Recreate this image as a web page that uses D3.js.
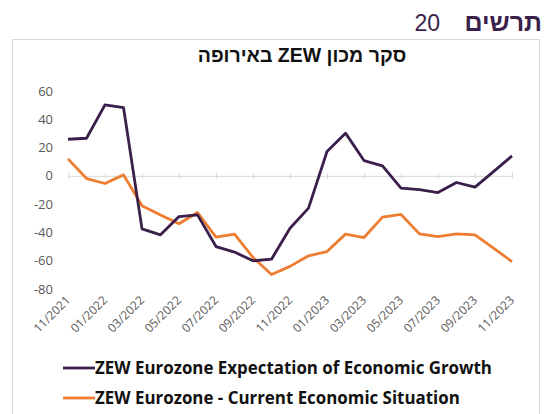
<!DOCTYPE html>
<html><head><meta charset="utf-8">
<script src="https://cdn.jsdelivr.net/npm/d3@7"></script>
<style>body{margin:0;background:#fff}svg{display:block}</style>
</head><body>
<script>
const months = ["11/2021","12/2021","01/2022","02/2022","03/2022","04/2022","05/2022","06/2022","07/2022","08/2022","09/2022","10/2022","11/2022","12/2022","01/2023","02/2023","03/2023","04/2023","05/2023","06/2023","07/2023","08/2023","09/2023","10/2023","11/2023"];
const growth = [25.9,26.6,50.2,48.3,-37.5,-41.7,-28.8,-27.6,-50.0,-53.9,-60.1,-58.9,-37.0,-22.8,17.2,30.2,10.8,7.1,-8.7,-9.7,-11.8,-4.7,-8.0,3.0,14.1];
const current = [12.0,-1.9,-5.4,0.7,-21.2,-27.6,-33.9,-25.9,-43.3,-41.2,-57.7,-69.8,-64.0,-56.5,-53.5,-41.2,-43.6,-29.2,-27.3,-41.0,-42.9,-41.0,-41.7,-51.1,-60.6];
const tickLabels = ["11/2021","01/2022","03/2022","05/2022","07/2022","09/2022","11/2022","01/2023","03/2023","05/2023","07/2023","09/2023","11/2023"];
const yTicks = [60,40,20,0,-20,-40,-60,-80];
const seriesNames = ["ZEW Eurozone Expectation of Economic Growth","ZEW Eurozone - Current Economic Situation"];
const colors = ["#3b1f4b","#ed7d31"];

const W=545,H=414;
const svg=d3.select("body").append("svg").attr("width",W).attr("height",H);
const font='"Liberation Sans", Arial, "DejaVu Sans", sans-serif';
const font2='"Open Sans", "DejaVu Sans", sans-serif';

// header
svg.append("text").attr("x",542).attr("y",31).attr("text-anchor","end")
  .attr("font-family",font).attr("font-weight","bold").attr("font-size",25).attr("fill","#3b1f4b").text("תרשים");
svg.append("text").attr("x",440).attr("y",31).attr("text-anchor","end")
  .attr("font-family",font).attr("font-size",23).attr("fill","#3b1f4b").text("20");

// box
svg.append("rect").attr("x",12.5).attr("y",39.5).attr("width",527).attr("height",380)
  .attr("fill","none").attr("stroke","#d9d9d9").attr("stroke-width",1);

// title
svg.append("text").attr("x",302).attr("y",62).attr("text-anchor","middle")
  .attr("font-family",font).attr("font-weight","bold").attr("font-size",19.5).attr("fill","#111")
  .attr("direction","rtl").text("סקר מכון ZEW באירופה");

const x=d3.scalePoint().domain(months).range([68,512]);
const y=d3.scaleLinear().domain([-80,60]).range([289,91]);

// y labels
svg.append("g").selectAll("text").data(yTicks).join("text")
  .attr("x",53).attr("y",d=>y(d)).attr("dy","0.35em").attr("text-anchor","end")
  .attr("font-family",font2).attr("font-size",13).attr("fill","#595959").text(d=>d);

// zero axis
const ax=svg.append("g").attr("transform",`translate(0,${y(0)})`)
  .call(d3.axisBottom(x).tickValues(tickLabels).tickSize(3).tickSizeOuter(0).tickFormat(""));
ax.select(".domain").attr("stroke","#d9d9d9");
ax.selectAll(".tick line").attr("stroke","#d9d9d9").attr("y1",-3).attr("y2",3);

// x labels
svg.append("g").selectAll("text").data(tickLabels).join("text")
  .attr("transform",d=>`translate(${x(d)+3},${301}) rotate(-45)`)
  .attr("text-anchor","end").attr("font-family",font2).attr("font-size",12).attr("fill","#595959")
  .text(d=>d);

// lines
const line=d3.line().x((d,i)=>x(months[i])).y(d=>y(d));
[current,growth].forEach(s=>{
  const k = s===growth?0:1;
  svg.append("path").datum(s).attr("d",line).attr("fill","none")
    .attr("stroke",colors[k]).attr("stroke-width",2.8).attr("stroke-linejoin","round");
});

// legend
seriesNames.forEach((n,k)=>{
  const ly=[368,398][k];
  svg.append("line").attr("x1",63).attr("x2",95).attr("y1",ly).attr("y2",ly)
    .attr("stroke",colors[k]).attr("stroke-width",2.8);
  svg.append("text").attr("x",95).attr("y",ly).attr("dy","0.36em")
    .attr("font-family",font2).attr("font-weight","bold").attr("font-size",16.9).attr("fill","#111").text(n);
});
</script>
</body></html>
